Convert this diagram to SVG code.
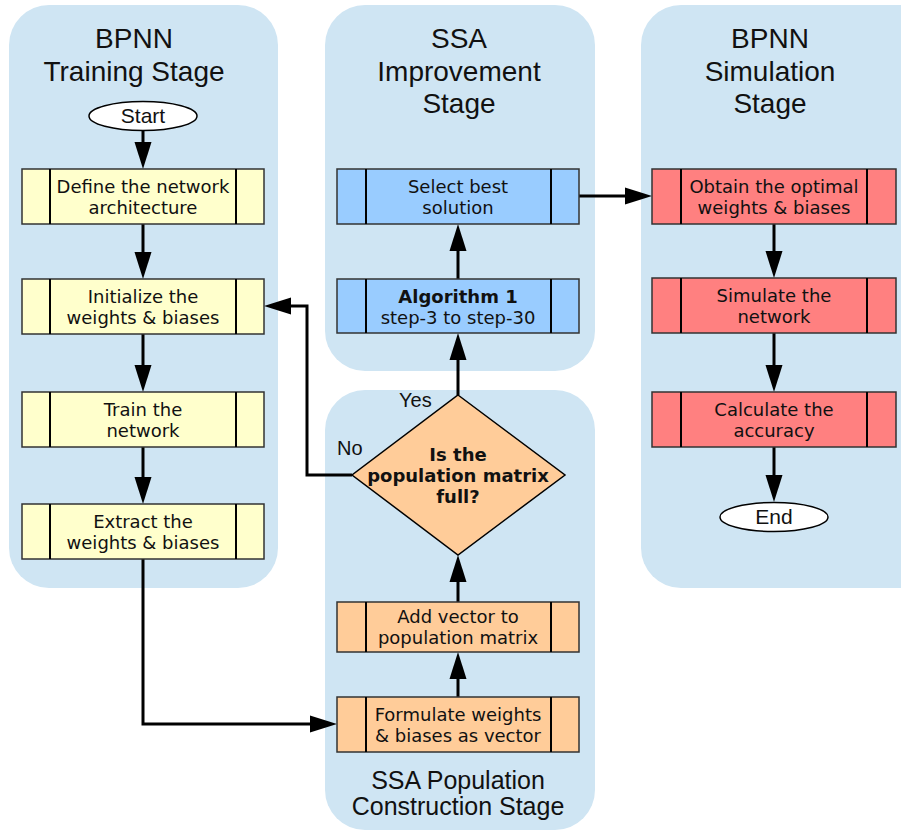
<svg xmlns="http://www.w3.org/2000/svg" width="901" height="831" viewBox="0 0 901 831">
<style>
.panel{fill:#cfe5f3}
.title{font-family:"Liberation Sans",Arial,sans-serif;font-size:28px;fill:#111;text-anchor:middle}
.sub{font-family:"Liberation Sans",Arial,sans-serif;font-size:25px;fill:#111;text-anchor:middle}
.lbl{font-family:"Liberation Sans",Arial,sans-serif;font-size:20px;fill:#111}
.box{stroke:#333;stroke-width:1.5}
.bar{stroke:#000;stroke-width:2}
.t{font-family:"DejaVu Sans",Verdana,sans-serif;font-size:18px;fill:#111;text-anchor:middle}
.b{font-weight:bold}
.term-t{font-family:"Liberation Sans",Arial,sans-serif;font-size:21px;fill:#111;text-anchor:middle}
.y{fill:#ffffcc}.bl{fill:#99ccff}.r{fill:#ff8080}.o{fill:#ffcc99}
.conn{fill:none;stroke:#000;stroke-width:3}
.term{fill:#fff;stroke:#000;stroke-width:1.5}
</style>
<defs>
<marker id="ah" markerUnits="userSpaceOnUse" markerWidth="28" markerHeight="18" refX="20" refY="9" orient="auto">
<path d="M0,0.5 L27,9 L0,17.5 z" fill="#000"/>
</marker>
</defs>

<g id="panels">
<rect class="panel" x="9" y="5" width="269" height="583" rx="40"/>
<rect class="panel" x="325" y="5" width="270" height="366" rx="40"/>
<rect class="panel" x="325" y="390" width="270" height="440" rx="40"/>
<rect class="panel" x="641" y="5" width="300" height="583" rx="40"/>
<text class="title" x="134" y="48">BPNN</text>
<text class="title" x="134" y="81">Training Stage</text>
<text class="title" x="459" y="48">SSA</text>
<text class="title" x="459" y="81">Improvement</text>
<text class="title" x="459" y="113">Stage</text>
<text class="title" x="770" y="48">BPNN</text>
<text class="title" x="770" y="81">Simulation</text>
<text class="title" x="770" y="113">Stage</text>
<text class="sub" x="458" y="789">SSA Population</text>
<text class="sub" x="458" y="815">Construction Stage</text>
</g>

<g id="connectors">
<path class="conn" d="M143,131 V162" marker-end="url(#ah)"/>
<path class="conn" d="M143,224 V272" marker-end="url(#ah)"/>
<path class="conn" d="M143,334 V385" marker-end="url(#ah)"/>
<path class="conn" d="M143,447 V497" marker-end="url(#ah)"/>
<path class="conn" d="M143,559 V724 H330" marker-end="url(#ah)"/>
<path class="conn" d="M458,697 V659" marker-end="url(#ah)"/>
<path class="conn" d="M458,602 V562" marker-end="url(#ah)"/>
<path class="conn" d="M458,395 V340" marker-end="url(#ah)"/>
<path class="conn" d="M458,279 V231" marker-end="url(#ah)"/>
<path class="conn" d="M579,196 H645" marker-end="url(#ah)"/>
<path class="conn" d="M352,475 H307 V306 H271" marker-end="url(#ah)"/>
<path class="conn" d="M774,224 V271" marker-end="url(#ah)"/>
<path class="conn" d="M774,333 V385" marker-end="url(#ah)"/>
<path class="conn" d="M774,447 V495" marker-end="url(#ah)"/>
<text class="lbl" x="399" y="407">Yes</text>
<text class="lbl" x="337" y="455">No</text>
</g>

<g id="start">
<ellipse class="term" cx="143" cy="116" rx="54" ry="14.5"/>
<text class="term-t" x="143" y="123">Start</text>
</g>
<g id="define">
<rect class="box y" x="22" y="169" width="242" height="55"/>
<line class="bar" x1="50" y1="169" x2="50" y2="224"/><line class="bar" x1="236" y1="169" x2="236" y2="224"/>
<text class="t" x="143" y="193">Define the network</text><text class="t" x="143" y="214">architecture</text>
</g>
<g id="init">
<rect class="box y" x="22" y="279" width="242" height="55"/>
<line class="bar" x1="50" y1="279" x2="50" y2="334"/><line class="bar" x1="236" y1="279" x2="236" y2="334"/>
<text class="t" x="143" y="303">Initialize the</text><text class="t" x="143" y="324">weights &amp; biases</text>
</g>
<g id="train">
<rect class="box y" x="22" y="392" width="242" height="55"/>
<line class="bar" x1="50" y1="392" x2="50" y2="447"/><line class="bar" x1="236" y1="392" x2="236" y2="447"/>
<text class="t" x="143" y="416">Train the</text><text class="t" x="143" y="437">network</text>
</g>
<g id="extract">
<rect class="box y" x="22" y="504" width="242" height="55"/>
<line class="bar" x1="50" y1="504" x2="50" y2="559"/><line class="bar" x1="236" y1="504" x2="236" y2="559"/>
<text class="t" x="143" y="528">Extract the</text><text class="t" x="143" y="549">weights &amp; biases</text>
</g>

<g id="select">
<rect class="box bl" x="337" y="169" width="242" height="55"/>
<line class="bar" x1="366" y1="169" x2="366" y2="224"/><line class="bar" x1="551" y1="169" x2="551" y2="224"/>
<text class="t" x="458" y="193">Select best</text><text class="t" x="458" y="214">solution</text>
</g>
<g id="algorithm">
<rect class="box bl" x="337" y="279" width="242" height="54"/>
<line class="bar" x1="366" y1="279" x2="366" y2="333"/><line class="bar" x1="551" y1="279" x2="551" y2="333"/>
<text class="t b" x="458" y="303">Algorithm 1</text><text class="t" x="458" y="324">step-3 to step-30</text>
</g>
<g id="decision">
<polygon points="458,395 565,475 458,555 352,475" fill="#ffcc99" stroke="#000" stroke-width="1.5"/>
<text class="t b" x="458" y="461">Is the</text>
<text class="t b" x="458" y="482">population matrix</text>
<text class="t b" x="458" y="503">full?</text>
</g>
<g id="addvector">
<rect class="box o" x="337" y="602" width="242" height="50"/>
<line class="bar" x1="366" y1="602" x2="366" y2="652"/><line class="bar" x1="551" y1="602" x2="551" y2="652"/>
<text class="t" x="458" y="623">Add vector to</text><text class="t" x="458" y="644">population matrix</text>
</g>
<g id="formulate">
<rect class="box o" x="337" y="697" width="242" height="55"/>
<line class="bar" x1="366" y1="697" x2="366" y2="752"/><line class="bar" x1="551" y1="697" x2="551" y2="752"/>
<text class="t" x="458" y="721">Formulate weights</text><text class="t" x="458" y="742">&amp; biases as vector</text>
</g>

<g id="obtain">
<rect class="box r" x="652" y="169" width="244" height="55"/>
<line class="bar" x1="681" y1="169" x2="681" y2="224"/><line class="bar" x1="867" y1="169" x2="867" y2="224"/>
<text class="t" x="774" y="193">Obtain the optimal</text><text class="t" x="774" y="214">weights &amp; biases</text>
</g>
<g id="simulate">
<rect class="box r" x="652" y="278" width="244" height="55"/>
<line class="bar" x1="681" y1="278" x2="681" y2="333"/><line class="bar" x1="867" y1="278" x2="867" y2="333"/>
<text class="t" x="774" y="302">Simulate the</text><text class="t" x="774" y="323">network</text>
</g>
<g id="calculate">
<rect class="box r" x="652" y="392" width="244" height="55"/>
<line class="bar" x1="681" y1="392" x2="681" y2="447"/><line class="bar" x1="867" y1="392" x2="867" y2="447"/>
<text class="t" x="774" y="416">Calculate the</text><text class="t" x="774" y="437">accuracy</text>
</g>
<g id="end">
<ellipse class="term" cx="774" cy="517" rx="54" ry="14.5"/>
<text class="term-t" x="774" y="524">End</text>
</g>
</svg>
